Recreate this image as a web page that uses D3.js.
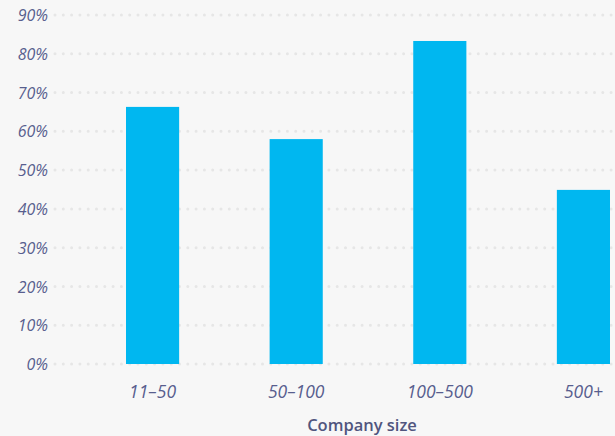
<!DOCTYPE html>
<html>
<head>
<meta charset="utf-8">
<script src="https://cdn.jsdelivr.net/npm/d3@7"></script>
<style>
  html, body { margin: 0; padding: 0; background: #f7f7f7; }
  svg { display: block; }
  text { font-family: "Open Sans", sans-serif; }
</style>
</head>
<body>
<svg id="chart" width="615" height="436"></svg>
<script>
// Share of companies, by company size
const categories = ["11–50", "50–100", "100–500", "500+"];
const values = [66.3, 58.0, 83.3, 44.9];
const yTicks = [0, 10, 20, 30, 40, 50, 60, 70, 80, 90];
const axisTitle = "Company size";

const svg = d3.select("#chart");
const W = 615, H = 436;

const y = d3.scaleLinear().domain([0, 90]).range([364, 15]);
const x = d3.scaleBand().domain(categories).range([126, 610])
  .paddingInner(0.63).paddingOuter(0);

// dotted grid lines
const grid = svg.append("g");
grid.selectAll("line").data(yTicks).join("line")
  .attr("x1", 55).attr("x2", W)
  .attr("y1", d => y(d)).attr("y2", d => y(d))
  .attr("stroke", "#e6e6e6")
  .attr("stroke-width", 3)
  .attr("stroke-linecap", "round")
  .attr("stroke-dasharray", "0 8.3");

// y axis labels
const yAxis = d3.axisLeft(y).tickValues(yTicks).tickFormat(d => d + "%").tickSize(0).tickPadding(0);
svg.append("g").attr("transform", "translate(48,0)").call(yAxis)
  .call(g => g.select(".domain").remove())
  .call(g => g.selectAll("text")
    .attr("fill", "#585e8e")
    .attr("font-size", 16)
    .attr("font-style", "italic")
    .attr("dy", "0.35em"));

// bars
svg.append("g").selectAll("rect").data(values).join("rect")
  .attr("x", (d, i) => x(categories[i]))
  .attr("width", x.bandwidth())
  .attr("y", d => y(d))
  .attr("height", d => y(0) - y(d))
  .attr("fill", "#00b7f0");

// x axis labels
const xAxis = d3.axisBottom(x).tickSize(0).tickPadding(0);
svg.append("g").attr("transform", "translate(0,392)").call(xAxis)
  .call(g => g.select(".domain").remove())
  .call(g => g.selectAll("text")
    .attr("fill", "#585e8e")
    .attr("font-size", 17.5)
    .attr("font-style", "italic")
    .attr("dy", "0.35em"));

// axis title
svg.append("text")
  .attr("x", 362).attr("y", 431)
  .attr("text-anchor", "middle")
  .attr("fill", "#50557e")
  .attr("font-size", 16.5)
  .attr("font-weight", "600")
  .text(axisTitle);
</script>
</body>
</html>
